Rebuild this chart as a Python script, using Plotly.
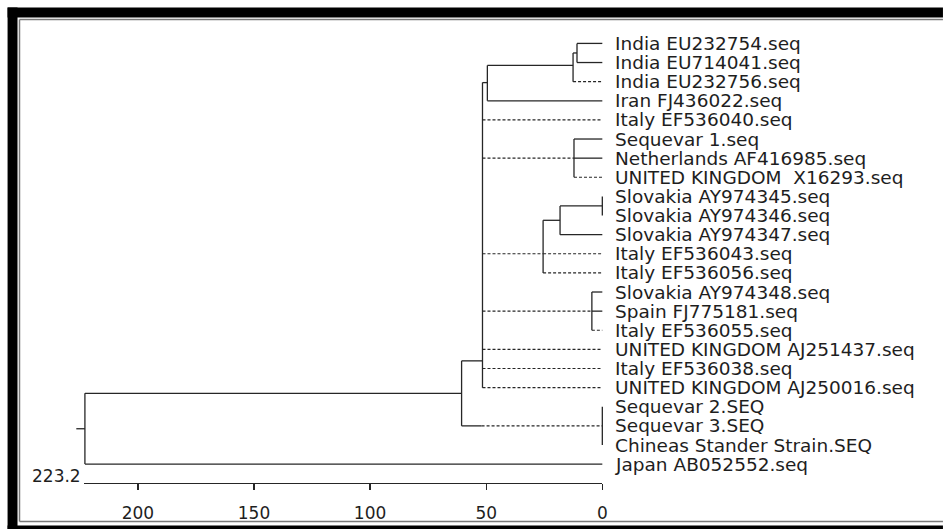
import plotly.graph_objects as go

# ---------------- data ----------------
leaf_labels = [
    "India EU232754.seq", "India EU714041.seq", "India EU232756.seq", "Iran FJ436022.seq",
    "Italy EF536040.seq", "Sequevar 1.seq", "Netherlands AF416985.seq", "UNITED KINGDOM  X16293.seq",
    "Slovakia AY974345.seq", "Slovakia AY974346.seq", "Slovakia AY974347.seq", "Italy EF536043.seq",
    "Italy EF536056.seq", "Slovakia AY974348.seq", "Spain FJ775181.seq", "Italy EF536055.seq",
    "UNITED KINGDOM AJ251437.seq", "Italy EF536038.seq", "UNITED KINGDOM AJ250016.seq",
    "Sequevar 2.SEQ", "Sequevar 3.SEQ", "Chineas Stander Strain.SEQ", "Japan AB052552.seq",
]
leaf_parent = ["E", "E", "D", "C", "B", "F", "F", "F", "I", "I", "H", "G", "G",
               "J", "J", "J", "B", "B", "B", "K", "K", "K", "root"]
leaf_style = ["solid", "solid", "dash", "solid", "dash", "solid", "solid", "dash",
              "none", "none", "solid", "dash", "dash", "solid", "solid", "dash",
              "dash", "dash", "dash", "none", "none", "none", "solid"]

node_names = ["root", "A", "B", "C", "D", "E", "F", "G", "H", "I", "J", "K"]
node_dist = [222.8, 60.6, 51.6, 49.5, 12.6, 10.9, 12.2, 25.5, 18.2, 0.0, 4.5, 0.0]
node_row = [20.15, 18.3, 16.6, 2.05, 1.15, 0.5, 6.0, 11.0, 9.25, 8.5, 14.0, 20.0]
node_parent = [None, "root", "A", "B", "C", "D", "B", "B", "G", "H", "B", "A"]
node_style = [None, "solid", "solid", "solid", "solid", "solid", "dash", "dash",
              "solid", "solid", "dash", "dash"]
node_solid_to = [None, None, None, None, None, None, None, None, None, None, None, 52.0]

scale_max = 223.2
scale_ticks = [200, 150, 100, 50, 0]
root_stub = 226.5

# ---------------- build segments ----------------
LINE = "#262626"
dist = dict(zip(node_names, node_dist))
row = dict(zip(node_names, node_row))

solid_x, solid_y, dash_x, dash_y = [], [], [], []


def seg(style, x0, x1, y0, y1):
    if style == "solid":
        solid_x.extend([x0, x1, None]); solid_y.extend([y0, y1, None])
    elif style == "dash":
        dash_x.extend([x0, x1, None]); dash_y.extend([y0, y1, None])


children_rows = {n: [] for n in node_names}
for i, p in enumerate(leaf_parent):
    children_rows[p].append(i)
    seg(leaf_style[i], dist[p], 0.0, i, i)
for n, p, st, split in zip(node_names, node_parent, node_style, node_solid_to):
    if p is None:
        continue
    children_rows[p].append(row[n])
    if split is not None:
        seg("solid", dist[p], split, row[n], row[n])
        seg(st, split, dist[n], row[n], row[n])
    else:
        seg(st, dist[p], dist[n], row[n], row[n])
for n in node_names:
    rs = children_rows[n]
    seg("solid", dist[n], dist[n], min(rs), max(rs))
seg("solid", root_stub, dist["root"], row["root"], row["root"])

# ---------------- figure ----------------
FONT = "DejaVu Sans"
FS = 18.5
W, H = 948, 531
L, R, T, B = 20, 8, 20, 9
PX_PER_UNIT = 2.335
ZERO_PX = 605.5
ROW0_PX, ROW_PX = 43.5, 19.2

x_left = (ZERO_PX - L) / PX_PER_UNIT
x_right = (ZERO_PX - (W - R)) / PX_PER_UNIT
y_top = (T - ROW0_PX) / ROW_PX
y_bot = ((H - B) - ROW0_PX) / ROW_PX
pw, ph = W - L - R, H - T - B

fig = go.Figure()
fig.add_trace(go.Scatter(x=solid_x, y=solid_y, mode="lines",
                         line=dict(color=LINE, width=1.3), hoverinfo="skip"))
fig.add_trace(go.Scatter(x=dash_x, y=dash_y, mode="lines",
                         line=dict(color=LINE, width=1.2, dash="3px,2px"), hoverinfo="skip"))
# scale axis trace (invisible) on secondary x axis
fig.add_trace(go.Scatter(x=[scale_max, 0], y=[23, 23], xaxis="x2", yaxis="y",
                         mode="markers", marker=dict(opacity=0), hoverinfo="skip"))

for i, lab in enumerate(leaf_labels):
    fig.add_annotation(x=0, y=i, xref="x", yref="y", text=lab, showarrow=False,
                       xanchor="left", yanchor="middle", xshift=11,
                       font=dict(family=FONT, size=FS, color="#1e1e1e"))
fig.add_annotation(x=scale_max, y=22.63, xref="x", yref="y", text=str(scale_max),
                   showarrow=False, xanchor="right", yanchor="middle", xshift=-1,
                   font=dict(family=FONT, size=17, color="#1e1e1e"))


def px_x(p):
    return (p - L) / pw


def px_y(p):
    return ((H - B) - p) / ph


frame = [
    (7.5, 7.5, W, 17.5),   # top bar
    (7.5, 7.5, 17.5, H),   # left bar
    (7.5, 527.5, W, H),    # bottom bar
]
for x0, y0, x1, y1 in frame:
    fig.add_shape(type="rect", xref="paper", yref="paper",
                  x0=px_x(x0), x1=px_x(x1), y0=px_y(y0), y1=px_y(y1),
                  fillcolor="black", line=dict(width=0), layer="above")
for x0, y0, x1, y1 in [(19.5, 19.5, W, 19.5), (19.5, 19.5, 19.5, 523.5), (19.5, 523.5, W, 523.5)]:
    fig.add_shape(type="line", xref="paper", yref="paper",
                  x0=px_x(x0), x1=px_x(x1), y0=px_y(y0), y1=px_y(y1),
                  line=dict(color="#7a7a7a", width=1.5), layer="above")

fig.update_layout(
    width=W, height=H,
    margin=dict(l=L, r=R, t=T, b=B, pad=0),
    paper_bgcolor="white", plot_bgcolor="rgba(0,0,0,0)",
    showlegend=False,
    xaxis=dict(range=[x_left, x_right], visible=False, fixedrange=True),
    yaxis=dict(range=[y_bot, y_top], visible=False, fixedrange=True),
    xaxis2=dict(domain=[px_x(ZERO_PX - scale_max * PX_PER_UNIT), px_x(ZERO_PX)],
                range=[scale_max, 0], anchor="free", position=px_y(485),
                showline=True, linecolor=LINE, linewidth=1.3,
                ticks="outside", ticklen=6, tickwidth=1.3, tickcolor=LINE,
                tickvals=scale_ticks, ticktext=[str(t) for t in scale_ticks],
                ticklabelstandoff=8,
                tickfont=dict(family=FONT, size=17, color="#1e1e1e"),
                showgrid=False, zeroline=False, fixedrange=True),
)

fig.write_html(
    "out.html",
    config={"displayModeBar": False, "staticPlot": True},
    post_script="document.body.style.margin='0';document.body.style.overflow='hidden';",
)
